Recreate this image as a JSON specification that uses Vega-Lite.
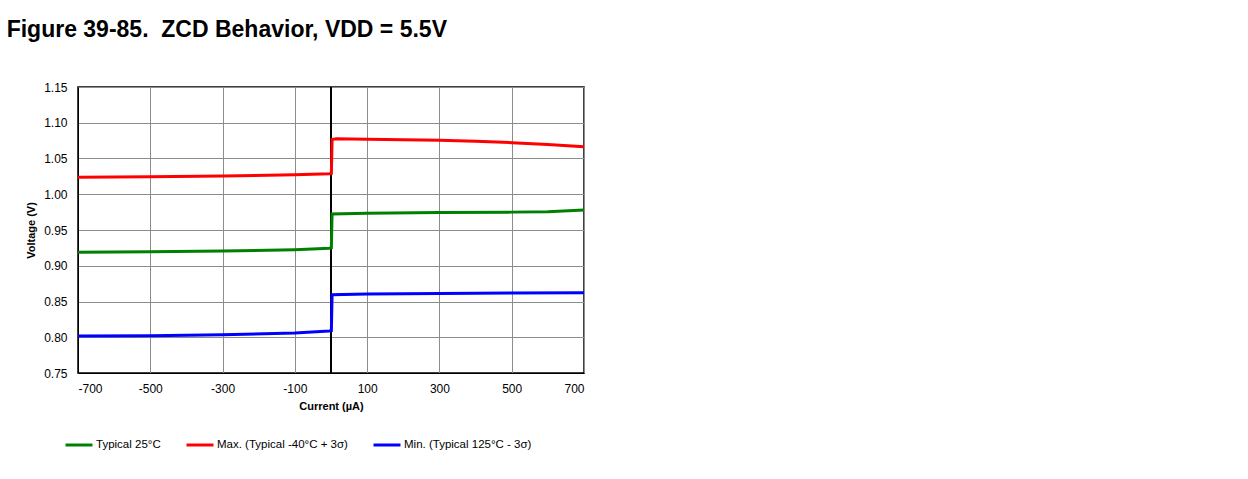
{
  "$schema": "https://vega.github.io/schema/vega-lite/v6.json",
  "width": 506,
  "height": 286,
  "autosize": {"type": "none"},
  "padding": {"left": 78, "top": 87, "right": 664, "bottom": 106},
  "background": "white",
  "config": {
    "font": "Liberation Sans",
    "view": {"stroke": "black", "strokeWidth": 1.5},
    "axis": {"labelFont": "Liberation Sans", "titleFont": "Liberation Sans", "labelColor": "#000", "titleColor": "#000", "labelFontSize": 12, "titleFontSize": 11, "titleFontWeight": "bold", "gridColor": "#8c8c8c", "gridOpacity": 1, "gridWidth": 1, "ticks": false, "domainColor": "black"}
  },
  "title": {"text": "Figure 39-85.\u00a0\u00a0ZCD Behavior, VDD = 5.5V", "anchor": "start", "frame": "bounds", "dx": -19, "fontSize": 23, "fontWeight": "bold", "font": "Liberation Sans", "color": "#000", "offset": 39},
  "data": {"values": [
    {"series": "Typical 25°C", "current": -700, "voltage": 0.9188},
    {"series": "Typical 25°C", "current": -500, "voltage": 0.9195},
    {"series": "Typical 25°C", "current": -300, "voltage": 0.9206},
    {"series": "Typical 25°C", "current": -100, "voltage": 0.9225},
    {"series": "Typical 25°C", "current": -5, "voltage": 0.9244},
    {"series": "Typical 25°C", "current": 1, "voltage": 0.9250},
    {"series": "Typical 25°C", "current": 3, "voltage": 0.9725},
    {"series": "Typical 25°C", "current": 100, "voltage": 0.9735},
    {"series": "Typical 25°C", "current": 300, "voltage": 0.9745},
    {"series": "Typical 25°C", "current": 500, "voltage": 0.9750},
    {"series": "Typical 25°C", "current": 600, "voltage": 0.9755},
    {"series": "Typical 25°C", "current": 700, "voltage": 0.9778},
    {"series": "Max. (Typical -40°C + 3σ)", "current": -700, "voltage": 1.0237},
    {"series": "Max. (Typical -40°C + 3σ)", "current": -500, "voltage": 1.0245},
    {"series": "Max. (Typical -40°C + 3σ)", "current": -300, "voltage": 1.0255},
    {"series": "Max. (Typical -40°C + 3σ)", "current": -100, "voltage": 1.0272},
    {"series": "Max. (Typical -40°C + 3σ)", "current": -5, "voltage": 1.0288},
    {"series": "Max. (Typical -40°C + 3σ)", "current": 1, "voltage": 1.0292},
    {"series": "Max. (Typical -40°C + 3σ)", "current": 3, "voltage": 1.0765},
    {"series": "Max. (Typical -40°C + 3σ)", "current": 15, "voltage": 1.0775},
    {"series": "Max. (Typical -40°C + 3σ)", "current": 100, "voltage": 1.0770},
    {"series": "Max. (Typical -40°C + 3σ)", "current": 300, "voltage": 1.0755},
    {"series": "Max. (Typical -40°C + 3σ)", "current": 400, "voltage": 1.0740},
    {"series": "Max. (Typical -40°C + 3σ)", "current": 500, "voltage": 1.0722},
    {"series": "Max. (Typical -40°C + 3σ)", "current": 600, "voltage": 1.0695},
    {"series": "Max. (Typical -40°C + 3σ)", "current": 700, "voltage": 1.0666},
    {"series": "Min. (Typical 125°C - 3σ)", "current": -700, "voltage": 0.8017},
    {"series": "Min. (Typical 125°C - 3σ)", "current": -500, "voltage": 0.8022},
    {"series": "Min. (Typical 125°C - 3σ)", "current": -300, "voltage": 0.8035},
    {"series": "Min. (Typical 125°C - 3σ)", "current": -100, "voltage": 0.8060},
    {"series": "Min. (Typical 125°C - 3σ)", "current": -5, "voltage": 0.8088},
    {"series": "Min. (Typical 125°C - 3σ)", "current": 1, "voltage": 0.8092},
    {"series": "Min. (Typical 125°C - 3σ)", "current": 3, "voltage": 0.8595},
    {"series": "Min. (Typical 125°C - 3σ)", "current": 100, "voltage": 0.8605},
    {"series": "Min. (Typical 125°C - 3σ)", "current": 300, "voltage": 0.8612},
    {"series": "Min. (Typical 125°C - 3σ)", "current": 500, "voltage": 0.8618},
    {"series": "Min. (Typical 125°C - 3σ)", "current": 700, "voltage": 0.8623}
  ]},
  "layer": [
    {
      "mark": {"type": "rule", "color": "black", "strokeWidth": 1.5},
      "encoding": {"x": {"datum": 0, "type": "quantitative"}}
    },
    {
      "mark": {"type": "line", "strokeWidth": 3, "interpolate": "linear"},
      "encoding": {
        "x": {"field": "current", "type": "quantitative", "title": "Current (µA)",
              "scale": {"domain": [-700, 700], "nice": false, "zero": false},
              "axis": {"values": [-700, -500, -300, -100, 100, 300, 500, 700], "labelExpr": "'' + datum.value", "labelPadding": 10, "titlePadding": 6, "grid": true}},
        "y": {"field": "voltage", "type": "quantitative", "title": "Voltage (V)",
              "scale": {"domain": [0.75, 1.15], "nice": false, "zero": false},
              "axis": {"values": [0.75, 0.8, 0.85, 0.9, 0.95, 1.0, 1.05, 1.1, 1.15], "format": ".2f", "labelPadding": 11, "titlePadding": 7, "grid": true}},
        "color": {"field": "series", "type": "nominal", "title": null,
                  "scale": {"domain": ["Typical 25°C", "Max. (Typical -40°C + 3σ)", "Min. (Typical 125°C - 3σ)"], "range": ["#008000", "#ff0000", "#0000ff"]},
                  "legend": {"orient": "none", "legendX": -14, "legendY": 343, "direction": "horizontal", "symbolType": "stroke", "symbolSize": 729, "symbolStrokeWidth": 3, "labelFontSize": 11.5, "labelFont": "Liberation Sans", "labelColor": "#000", "labelOffset": 2, "columnPadding": 19}},
        "order": {"field": "current", "type": "quantitative"}
      }
    }
  ]
}
